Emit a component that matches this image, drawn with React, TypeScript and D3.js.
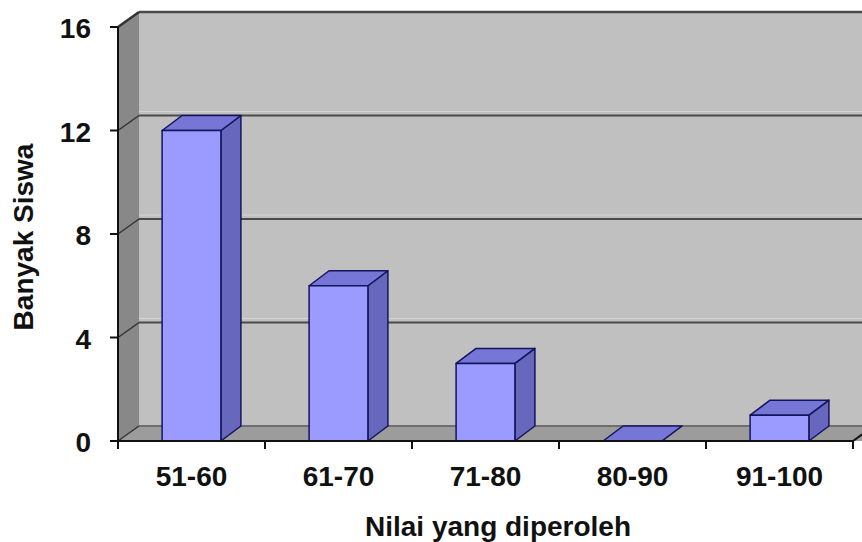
import React from "react";
import * as d3 from "d3";

const categories = ["51-60", "61-70", "71-80", "80-90", "91-100"];
const values = [12, 6, 3, 0, 1];
const yTicks = [0, 4, 8, 12, 16];
const yTitle = "Banyak Siswa";
const xTitle = "Nilai yang diperoleh";

const W = 862;
const H = 542;
const left = 118;
const right = 853;
const floorY = 441;
const topY = 27;
// oblique offset of the 3D depth
const dx = 21;
const dy = -15;
const font = "'Liberation Sans', Arial, sans-serif";

export default function App() {
  const y = d3.scaleLinear().domain([0, 16]).range([floorY, topY]);
  const x = d3
    .scaleBand<string>()
    .domain(categories)
    .range([left, right])
    .paddingInner(0.6)
    .paddingOuter(0.3);
  const step = x.step();
  const bw = x.bandwidth();
  const bdx = 20;

  const pts = (p: [number, number][]) => p.map((q) => q.join(",")).join(" ");
  const farRight = right + dx + 40;

  return (
    <div style={{ position: "fixed", left: 0, top: 0 }}>
      <svg width={W} height={H} style={{ display: "block", background: "#fff" }}>
        {/* back wall */}
        <rect x={left + dx} y={topY + dy} width={farRight - left - dx} height={floorY - topY} fill="#c0c0c0" />
        {/* side wall */}
        <polygon
          points={pts([
            [left, topY],
            [left + dx, topY + dy],
            [left + dx, floorY + dy],
            [left, floorY],
          ])}
          fill="#888888"
        />
        {/* floor */}
        <polygon
          points={pts([
            [left, floorY],
            [left + dx, floorY + dy],
            [farRight, floorY + dy],
            [farRight - dx, floorY],
          ])}
          fill="#9c9c9c"
        />
        {/* gridlines on side and back walls */}
        {yTicks.map((t) => (
          <g key={t}>
            {t > 0 && t < 16 && (
              <line
                x1={left + dx}
                x2={farRight}
                y1={y(t) + dy - 4}
                y2={y(t) + dy - 4}
                stroke="#d4d4d4"
                strokeWidth={1}
              />
            )}
            <line
              x1={left + dx}
              x2={farRight}
              y1={y(t) + dy}
              y2={y(t) + dy}
              stroke={t === 0 ? "#6e6e6e" : "#4a4a4a"}
              strokeWidth={t === 16 ? 2.5 : 2}
            />
            <line
              x1={left}
              y1={y(t)}
              x2={left + dx}
              y2={y(t) + dy}
              stroke="#333"
              strokeWidth={t === 16 ? 2.5 : 1.5}
            />
          </g>
        ))}
        {/* bars */}
        {categories.map((c, i) => {
          const x0 = x(c) as number;
          const x1 = x0 + bw;
          const yt = y(values[i]);
          return (
            <g key={c} stroke="#14145e" strokeWidth={1.5} strokeLinejoin="round">
              <polygon
                points={pts([
                  [x1, yt],
                  [x1 + bdx, yt + dy],
                  [x1 + bdx, floorY + dy],
                  [x1, floorY],
                ])}
                fill="#6767bd"
              />
              <polygon
                points={pts([
                  [x0, yt],
                  [x0 + bdx, yt + dy],
                  [x1 + bdx, yt + dy],
                  [x1, yt],
                ])}
                fill="#7676d6"
              />
              <rect x={x0} y={yt} width={bw} height={floorY - yt} fill="#9a9aff" />
            </g>
          );
        })}
        {/* y axis */}
        <line x1={left} x2={left} y1={topY} y2={floorY} stroke="#111" strokeWidth={2} />
        {yTicks.map((t) => (
          <g key={"yt" + t}>
            <line x1={left - 8} x2={left} y1={y(t)} y2={y(t)} stroke="#111" strokeWidth={2} />
            <text
              x={91}
              y={y(t) + 11}
              textAnchor="end"
              fontFamily={font}
              fontWeight="bold"
              fontSize={28}
              fill="#111"
            >
              {t}
            </text>
          </g>
        ))}
        {/* x axis */}
        <line x1={left} x2={right} y1={floorY} y2={floorY} stroke="#111" strokeWidth={2} />
        <line x1={right} y1={floorY} x2={right + dx} y2={floorY + dy} stroke="#111" strokeWidth={2} />
        {d3.range(categories.length + 1).map((i) => (
          <line
            key={"xt" + i}
            x1={left + i * step}
            x2={left + i * step}
            y1={floorY}
            y2={floorY + 8}
            stroke="#111"
            strokeWidth={2}
          />
        ))}
        {categories.map((c) => (
          <text
            key={"xl" + c}
            x={(x(c) as number) + bw / 2}
            y={486}
            textAnchor="middle"
            fontFamily={font}
            fontWeight="bold"
            fontSize={28}
            fill="#111"
          >
            {c}
          </text>
        ))}
        <text
          x={498}
          y={536}
          textAnchor="middle"
          fontFamily={font}
          fontWeight="bold"
          fontSize={28}
          fill="#111"
        >
          {xTitle}
        </text>
        <text
          transform={`translate(33,237) rotate(-90)`}
          textAnchor="middle"
          fontFamily={font}
          fontWeight="bold"
          fontSize={28}
          fill="#111"
        >
          {yTitle}
        </text>
      </svg>
    </div>
  );
}
